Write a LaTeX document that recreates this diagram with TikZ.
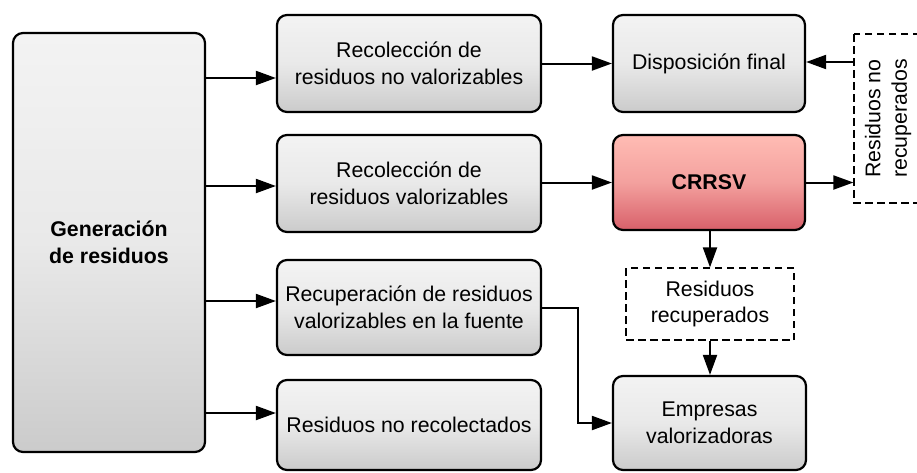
\documentclass[tikz,border=0pt]{standalone}
\usepackage{fontspec}
\setmainfont{Liberation Sans}
\usetikzlibrary{arrows.meta,calc}
\definecolor{gtop}{HTML}{F3F3F3}
\definecolor{gbot}{HTML}{CBCBCB}
\definecolor{rtop}{HTML}{FFBCB4}
\definecolor{rbot}{HTML}{D8606A}
\begin{document}
\begin{tikzpicture}[x=1pt,y=-1pt,
  txt/.style={font=\fontsize{21.3}{26.5}\selectfont},
  box/.style={txt, draw, line width=2.2pt, rounded corners=10pt,
    top color=gtop, bottom color=gbot, middle color=gtop!75!gbot,
    align=center, inner sep=0pt},
  dbox/.style={txt, draw, line width=1.2pt, dash pattern=on 7.5pt off 4.5pt,
    fill=white, align=center, inner sep=0pt},
  arr/.style={line width=2pt, -{Triangle[length=20pt,width=14pt]}}]
\useasboundingbox (0,0) rectangle (917,472);
\clip (0,0) rectangle (917,472);

\node[box, minimum width=192pt, minimum height=419pt] (gen) at (109,242.5)
  {\bfseries Generación\\\bfseries de residuos};

\node[box, minimum width=264pt, minimum height=97pt] (r1) at (409,63.5)
  {Recolección de\\residuos no valorizables};
\node[box, minimum width=264pt, minimum height=97pt] (r2) at (409,183.5)
  {Recolección de\\residuos valorizables};
\node[box, minimum width=264pt, minimum height=95pt] (r3) at (409,307.5)
  {Recuperación de residuos\\valorizables en la fuente};
\node[box, minimum width=264pt, minimum height=90pt] (r4) at (409,425)
  {Residuos no recolectados};

\node[box, minimum width=192pt, minimum height=97pt] (disp) at (709,63.5)
  {Disposición final};
\node[box, top color=rtop, bottom color=rbot, middle color=rtop!70!rbot,
  minimum width=192pt, minimum height=95pt] (crrsv) at (709,182.5)
  {\bfseries CRRSV};
\node[dbox, minimum width=168pt, minimum height=72pt] (rrec) at (710,304)
  {Residuos\\recuperados};
\node[box, minimum width=193pt, minimum height=94pt] (emp) at (709.5,423)
  {Empresas\\valorizadoras};
\node[dbox, rotate=90, minimum width=169pt, minimum height=68pt] (rnr) at (888,118.5)
  {Residuos no\\recuperados};

\draw[arr] (gen.east |- 0,78) -- (r1.west |- 0,78);
\draw[arr] (gen.east |- 0,186) -- (r2.west |- 0,186);
\draw[arr] (gen.east |- 0,301) -- (r3.west |- 0,301);
\draw[arr] (gen.east |- 0,413) -- (r4.west |- 0,413);

\draw[arr] (r1.east) -- (disp.west);
\draw[arr] (r2.east |- crrsv.west) -- (crrsv.west);
\draw[arr] (rnr.north |- 0,62) -- (disp.east |- 0,62);
\draw[arr] (crrsv.east) -- (rnr.north |- crrsv.east);
\draw[arr] (crrsv.south -| rrec.north) -- (rrec.north);
\draw[arr] (rrec.south) -- (rrec.south |- emp.north);
\draw[arr] (r3.east) -- ++(36,0) |- (emp.west);
\end{tikzpicture}
\end{document}
